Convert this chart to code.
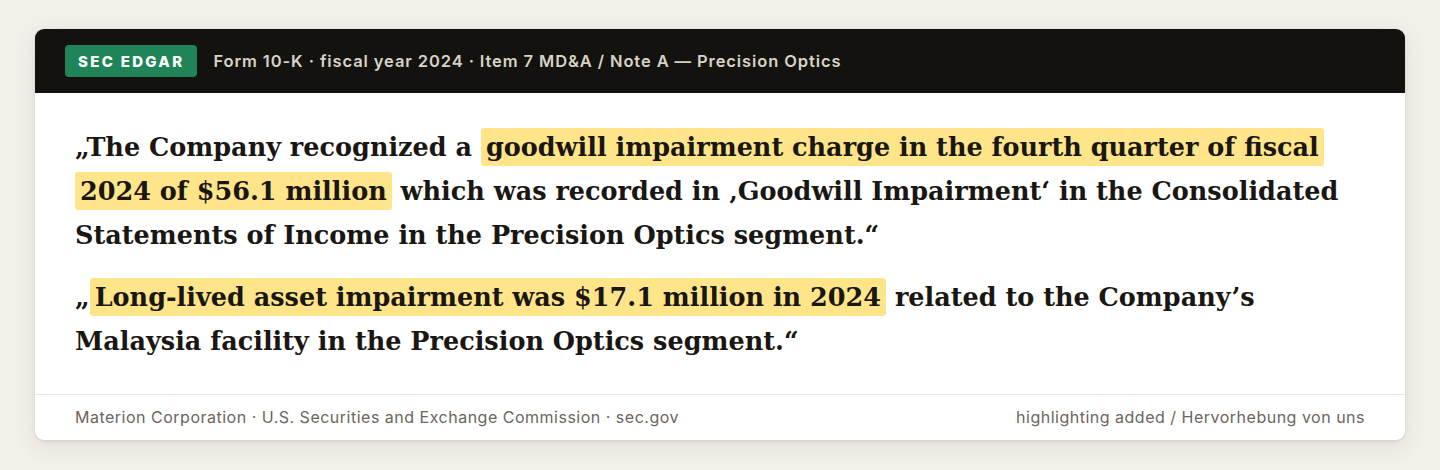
<!DOCTYPE html>
<html>
<head>
<meta charset="utf-8">
<script src="https://cdn.jsdelivr.net/npm/chart.js@4"></script>
<style>
html,body{margin:0;padding:0;}
body{width:1440px;height:470px;background:#f3f0ea;font-family:Inter,"Noto Sans",sans-serif;overflow:hidden;}
.card{position:absolute;left:35px;top:29px;width:1370px;height:411px;background:#fff;border-radius:9px;overflow:hidden;
  box-shadow:0 6px 22px rgba(60,50,30,0.10),0 1px 3px rgba(60,50,30,0.12);}
.head{height:64px;background:#14120e;display:flex;align-items:center;}
.badge{margin-left:30px;height:32px;padding:0 13px;background:#1f8558;border-radius:4px;color:#fff;font-weight:800;font-size:15px;letter-spacing:2.3px;display:flex;align-items:center;}
.src{margin-left:16px;color:#d8d2c6;font-weight:600;font-size:16.5px;letter-spacing:0.9px;}
.body{position:absolute;left:40px;top:63px;width:1320px;font-family:"DejaVu Serif",serif;font-weight:700;font-size:25.5px;color:#1a1713;line-height:44px;}
.p{margin:0;white-space:nowrap;}
.p1{padding-top:33px;}
.p2{margin-top:18px;}
.hl{background:#ffe58a;padding:4px 5px 4px 5px;-webkit-box-decoration-break:clone;box-decoration-break:clone;border-radius:3px;}
.rule{position:absolute;left:0;right:0;top:365px;height:1px;background:#ece6da;}
.foot{position:absolute;left:40px;right:40px;top:378px;display:flex;justify-content:space-between;color:#6b655c;font-size:16px;letter-spacing:0.5px;}
canvas{display:none;}
</style>
</head>
<body>
<div class="card">
  <div class="head"><div class="badge" id="badge"></div><div class="src" id="src"></div></div>
  <div class="body" id="body"></div>
  <div class="rule"></div>
  <div class="foot"><span id="fl"></span><span id="fr"></span></div>
</div>
<canvas id="c"></canvas>
<script>
const badgeText = "SEC EDGAR";
const sourceText = "Form 10-K · fiscal year 2024 · Item 7 MD&A / Note A — Precision Optics";
const footLeft = "Materion Corporation · U.S. Securities and Exchange Commission · sec.gov";
const footRight = "highlighting added / Hervorhebung von uns";
// each paragraph: list of lines; each line: list of [text, highlighted]
const para1 = [
  [["„The Company recognized a ", false], ["goodwill impairment charge in the fourth quarter of fiscal", true]],
  [["2024 of $56.1 million", true], [" which was recorded in ‚Goodwill Impairment‘ in the Consolidated", false]],
  [["Statements of Income in the Precision Optics segment.“", false]]
];
const para2 = [
  [["„", false], ["Long-lived asset impairment was $17.1 million in 2024", true], [" related to the Company’s", false]],
  [["Malaysia facility in the Precision Optics segment.“", false]]
];
document.getElementById('badge').textContent = badgeText;
document.getElementById('src').textContent = sourceText;
document.getElementById('fl').textContent = footLeft;
document.getElementById('fr').textContent = footRight;
function build(lines, cls){
  const p = document.createElement('p'); p.className = 'p ' + cls;
  lines.forEach((line, i) => {
    const ld = document.createElement('div');
    line.forEach(([t, h]) => {
      const s = document.createElement('span');
      if (h) s.className = 'hl';
      s.textContent = t; ld.appendChild(s);
    });
    p.appendChild(ld);
  });
  return p;
}
const body = document.getElementById('body');
body.appendChild(build(para1, 'p1'));
body.appendChild(build(para2, 'p2'));
</script>
</body>
</html>
